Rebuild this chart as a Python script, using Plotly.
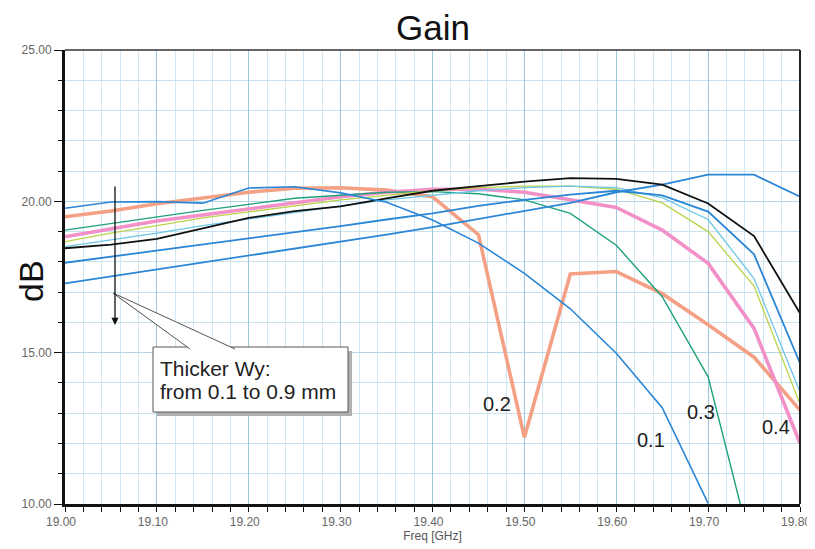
import plotly.graph_objects as go

# ---------------- data ----------------
freq = [19.00, 19.05, 19.10, 19.15, 19.20, 19.25, 19.30, 19.35, 19.40,
        19.45, 19.50, 19.55, 19.60, 19.65, 19.70, 19.75, 19.80]

gain_w01 = [19.77, 19.98, 19.99, 19.94, 20.44, 20.48, 20.28, 19.97, 19.38,
            18.62, 17.62, 16.45, 14.98, 13.18, 10.02, None, None]
gain_w02 = [19.49, 19.68, 19.92, 20.10, 20.30, 20.43, 20.45, 20.37, 20.15,
            18.90, 12.20, 17.60, 17.68, 16.95, 15.92, 14.85, 13.10]
gain_w03 = [19.05, 19.27, 19.48, 19.70, 19.90, 20.10, 20.20, 20.30, 20.32,
            20.25, 20.05, 19.60, 18.55, 16.85, 14.20, 8.20, None]
gain_w04 = [18.83, 19.10, 19.35, 19.55, 19.75, 19.95, 20.15, 20.30, 20.40,
            20.40, 20.30, 20.05, 19.80, 19.05, 17.95, 15.80, 12.00]
gain_w05 = [18.67, 18.95, 19.20, 19.45, 19.65, 19.85, 20.05, 20.20, 20.35,
            20.45, 20.50, 20.50, 20.40, 19.95, 19.00, 17.20, 13.30]
gain_w06 = [18.50, 18.72, 18.95, 19.20, 19.42, 19.65, 19.85, 20.05, 20.20,
            20.35, 20.45, 20.50, 20.45, 20.12, 19.40, 17.45, 13.70]
gain_w07 = [18.45, 18.57, 18.76, 19.10, 19.45, 19.68, 19.83, 20.10, 20.35,
            20.50, 20.65, 20.77, 20.74, 20.55, 19.93, 18.85, 16.30]
gain_w08 = [17.97, 18.17, 18.38, 18.58, 18.78, 18.98, 19.18, 19.40, 19.60,
            19.85, 20.05, 20.22, 20.35, 20.20, 19.66, 18.25, 14.65]
gain_w09 = [17.29, 17.52, 17.75, 17.98, 18.20, 18.42, 18.65, 18.90, 19.15,
            19.42, 19.68, 19.95, 20.30, 20.55, 20.88, 20.88, 20.15]

wy_names = ["0.1", "0.2", "0.3", "0.4", "0.5", "0.6", "0.7", "0.8", "0.9"]
series = [gain_w01, gain_w02, gain_w03, gain_w04, gain_w05,
          gain_w06, gain_w07, gain_w08, gain_w09]

# labels written on the curves
curve_labels = ["0.2", "0.1", "0.3", "0.4"]
curve_label_x = [19.470, 19.638, 19.692, 19.774]
curve_label_y = [13.30, 12.11, 13.04, 12.54]

# ---------------- styles ----------------
styles = {
    "0.1": dict(color="#2b86d6", width=1.6),
    "0.2": dict(color="#f4a084", width=3.6),
    "0.3": dict(color="#1fa07c", width=1.4),
    "0.4": dict(color="#f290c8", width=3.6),
    "0.5": dict(color="#bcd24a", width=1.3),
    "0.6": dict(color="#6cc6e6", width=1.3),
    "0.7": dict(color="#111111", width=1.8),
    "0.8": dict(color="#2b86d6", width=1.8),
    "0.9": dict(color="#2b86d6", width=1.8),
}
draw_order = ["0.2", "0.4", "0.3", "0.5", "0.6", "0.9", "0.8", "0.7", "0.1"]

fig = go.Figure()
for name in draw_order:
    vals = series[wy_names.index(name)]
    fig.add_trace(go.Scatter(x=freq, y=vals, mode="lines", name="Wy " + name,
                             line=styles[name], connectgaps=False,
                             hoverinfo="skip"))

# the page body adds an 8 px offset; figure is sized so that the plot area
# lands at screen pixels 65..800 x 50..504
OFF = 8
W, H = 815 - OFF, 549 - OFF
L, R, T, B = 65, 800, 50, 504          # screen pixels of the plot area


def fx(px):
    return 19.0 + (px - L) / (R - L) * 0.8


def fy(py):
    return 10.0 + (B - py) / (B - T) * 15.0


FONT = "Liberation Sans, Arial, sans-serif"
annotations = []
for t, x, y in zip(curve_labels, curve_label_x, curve_label_y):
    annotations.append(dict(x=x, y=y, xref="x", yref="y", text=t, showarrow=False,
                            font=dict(size=20, color="#222", family=FONT)))

# downward arrow "thicker Wy"
annotations.append(dict(x=fx(115), y=fy(325), ax=fx(115), ay=fy(185),
                        xref="x", yref="y", axref="x", ayref="y", text="",
                        showarrow=True, arrowhead=2, arrowsize=1.1,
                        arrowwidth=1.3, arrowcolor="#111"))
# callout text
annotations.append(dict(x=fx(158), y=fy(368), xref="x", yref="y",
                        text="Thicker Wy:", showarrow=False, xanchor="left",
                        yanchor="middle", font=dict(size=21, color="#222", family=FONT)))
annotations.append(dict(x=fx(158), y=fy(391), xref="x", yref="y",
                        text="from 0.1 to 0.9 mm", showarrow=False, xanchor="left",
                        yanchor="middle", font=dict(size=21, color="#222", family=FONT)))
# dB label
annotations.append(dict(x=(31 - L) / (R - L), y=(B - 281) / (B - T), xref="paper",
                        yref="paper", text="dB", textangle=-90, showarrow=False,
                        xanchor="center", yanchor="middle",
                        font=dict(size=34, color="#111", family=FONT)))

shapes = [
    # callout shadow
    dict(type="rect", xref="x", yref="y", x0=fx(157), x1=fx(352), y0=fy(351), y1=fy(416),
         fillcolor="#b0b0b0", line=dict(width=0), layer="above"),
    dict(type="path", xref="x", yref="y",
         path=f"M {fx(193)},{fy(351)} L {fx(116)},{fy(296)} L {fx(239)},{fy(351)} Z",
         fillcolor="#c4c4c4", line=dict(width=0), layer="above"),
    # callout box
    dict(type="rect", xref="x", yref="y", x0=fx(153), x1=fx(348), y0=fy(347), y1=fy(412),
         fillcolor="white", line=dict(color="#555", width=1), layer="above"),
    dict(type="path", xref="x", yref="y",
         path=f"M {fx(190)},{fy(349)} L {fx(113)},{fy(293)} L {fx(235)},{fy(349)}",
         fillcolor="white", line=dict(color="#555", width=1), layer="above"),
    # right and top frame lines
    dict(type="line", xref="paper", yref="paper", x0=1, x1=1, y0=0, y1=1,
         line=dict(color="#222", width=2), layer="above"),
    dict(type="line", xref="paper", yref="paper", x0=0, x1=1, y0=1, y1=1,
         line=dict(color="#333", width=1.5), layer="above"),
]

fig.update_layout(
    width=W, height=H,
    margin=dict(l=L - OFF, r=W - (R - OFF), t=T - OFF, b=H - (B - OFF),
                autoexpand=False),
    paper_bgcolor="white", plot_bgcolor="white",
    showlegend=False,
    title=dict(text="Gain", x=(433 - OFF) / W, y=1 - (28 - OFF) / H,
               xanchor="center", yanchor="middle",
               font=dict(size=35, color="#111", family=FONT)),
    font=dict(family=FONT),
    annotations=annotations,
    shapes=shapes,
)
fig.update_xaxes(
    range=[19.0, 19.8], tick0=19.0, dtick=0.1, tickformat=".2f",
    showgrid=True, gridcolor="#9cc8e0", gridwidth=1,
    showline=True, linecolor="#111", linewidth=3,
    ticks="outside", ticklen=5, tickcolor="#111", tickwidth=1.2,
    tickfont=dict(size=12, color="#666", family=FONT),
    ticklabelshift=-4,
    minor=dict(dtick=0.02, showgrid=True, gridcolor="#d0e6f2", gridwidth=1,
               ticks="outside", ticklen=5, tickcolor="#111"),
    title=dict(text="Freq [GHz]", standoff=4,
               font=dict(size=12, color="#555", family=FONT)),
    zeroline=False,
)
fig.update_yaxes(
    range=[10, 25], tick0=10, dtick=5, tickformat=".2f",
    showgrid=True, gridcolor="#b4d6e8", gridwidth=1,
    showline=True, linecolor="#111", linewidth=3,
    ticks="outside", ticklen=8, tickcolor="#111", tickwidth=1.2,
    tickfont=dict(size=12, color="#666", family=FONT),
    minor=dict(dtick=1, showgrid=True, gridcolor="#c8e2f0", gridwidth=1,
               ticks="outside", ticklen=4, tickcolor="#111"),
    zeroline=False,
)

fig.write_html("out.html")
